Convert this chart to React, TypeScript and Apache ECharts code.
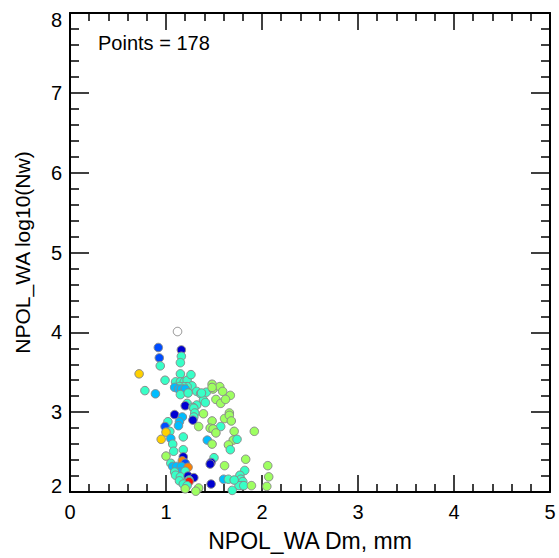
import React, { useEffect, useRef } from "react";
import * as echarts from "echarts";

// Dm (mm)
const dmValues: number[] = [
  0.92, 1.16, 1.16, 0.93, 1.15, 0.94, 0.72, 0.99, 0.78, 0.89,
  1.15, 1.10, 1.15, 1.19, 1.22, 1.26, 1.27, 1.22, 1.18, 1.14,
  1.09, 1.13, 1.16, 1.20, 1.15, 1.23, 1.32, 1.36, 1.39, 1.22,
  1.20, 1.32, 1.28, 1.42, 1.37, 1.41,
  1.48, 1.49, 1.56, 1.59, 1.67, 1.52, 1.57, 1.62, 1.48, 1.39, 1.66,
  1.09, 1.17, 1.29, 1.30, 1.29, 1.28, 1.02, 0.99, 1.14, 1.13,
  1.34, 1.04, 1.00, 0.95, 1.05, 1.18, 1.07, 1.08, 1.18, 1.00,
  1.18, 1.17, 1.20, 1.05, 1.07, 1.11, 1.16, 1.23, 1.15, 1.09,
  1.20, 1.10, 1.15, 1.23, 1.29, 1.24, 1.24, 1.14, 1.18, 1.22,
  1.20, 1.34, 1.31,
  1.48, 1.61, 1.66, 1.68, 1.57, 1.46, 1.49, 1.52, 1.71, 1.92,
  1.43, 1.48, 1.70, 1.74, 1.65, 1.67, 1.50, 1.47, 1.46, 1.61,
  1.83, 2.06, 1.82, 1.77, 1.78, 1.80, 1.79, 1.76, 1.81, 2.07,
  2.05, 1.89, 1.47, 1.60, 1.65, 1.71, 1.69,
];

// log10(Nw)
const nwValues: number[] = [
  3.81, 3.78, 3.70, 3.68, 3.62, 3.58, 3.48, 3.40, 3.27, 3.23,
  3.48, 3.38, 3.38, 3.38, 3.40, 3.47, 3.33, 3.32, 3.32, 3.32,
  3.31, 3.29, 3.29, 3.29, 3.22, 3.24, 3.26, 3.23, 3.15, 3.11,
  3.08, 3.09, 3.06, 3.25, 3.24, 3.12,
  3.35, 3.29, 3.32, 3.26, 3.21, 3.16, 3.11, 3.16, 3.31, 2.98, 2.99,
  2.97, 2.94, 3.05, 2.99, 2.94, 2.90, 2.88, 2.82, 2.88, 2.83,
  2.82, 2.76, 2.75, 2.66, 2.67, 2.69, 2.60, 2.51, 2.53, 2.45,
  2.44, 2.39, 2.36, 2.36, 2.32, 2.32, 2.32, 2.31, 2.25, 2.25,
  2.26, 2.21, 2.19, 2.20, 2.18, 2.15, 2.13, 2.14, 2.10, 2.08,
  2.04, 2.05, 2.01,
  2.89, 2.92, 2.96, 2.89, 2.82, 2.80, 2.79, 2.74, 2.76, 2.76,
  2.65, 2.60, 2.65, 2.66, 2.59, 2.53, 2.43, 2.37, 2.35, 2.33,
  2.41, 2.33, 2.27, 2.21, 2.16, 2.13, 2.08, 2.08, 2.08, 2.19,
  2.07, 2.08, 2.10, 2.16, 2.16, 2.15, 2.02,
];

// colour variable (0..1 on a jet scale)
const colorValues: number[] = [
  0.20, 0.08, 0.43, 0.20, 0.43, 0.43, 0.67, 0.43, 0.43, 0.31,
  0.43, 0.43, 0.43, 0.43, 0.43, 0.43, 0.43, 0.43, 0.43, 0.43,
  0.31, 0.31, 0.31, 0.31, 0.43, 0.43, 0.43, 0.43, 0.43, 0.43,
  0.08, 0.43, 0.43, 0.43, 0.43, 0.43,
  0.53, 0.53, 0.53, 0.53, 0.53, 0.53, 0.53, 0.53, 0.53, 0.53, 0.53,
  0.08, 0.31, 0.43, 0.43, 0.43, 0.08, 0.43, 0.20, 0.31, 0.31,
  0.53, 0.43, 0.67, 0.67, 0.31, 0.43, 0.43, 0.43, 0.43, 0.53,
  0.08, 0.75, 0.20, 0.43, 0.31, 0.31, 0.31, 0.75, 0.31, 0.43,
  0.43, 0.43, 0.43, 0.08, 0.08, 0.43, 0.86, 0.43, 0.43, 0.43,
  0.53, 0.53, 0.53,
  0.53, 0.53, 0.53, 0.53, 0.43, 0.53, 0.53, 0.53, 0.53, 0.53,
  0.31, 0.53, 0.53, 0.43, 0.53, 0.43, 0.43, 0.08, 0.08, 0.53,
  0.53, 0.53, 0.43, 0.43, 0.43, 0.43, 0.43, 0.43, 0.43, 0.53,
  0.53, 0.53, 0.08, 0.31, 0.43, 0.43, 0.43,
];

// points outside the colour range (drawn white)
const outDm: number[] = [1.12];
const outNw: number[] = [4.01];

const pointCount = 178;
const xTitle = "NPOL_WA Dm, mm";
const yTitle = "NPOL_WA log10(Nw)";

const jet = ["#000080", "#0000ff", "#0080ff", "#00ffff", "#80ff80", "#ffff00", "#ff8000", "#ff0000", "#800000"];

const FONT = "'Liberation Sans', Arial, Helvetica, sans-serif";

export default function App() {
  const ref = useRef<HTMLDivElement>(null);
  useEffect(() => {
    if (!ref.current) return;
    const chart = echarts.init(ref.current, undefined, { renderer: "svg" });
    const mainData = dmValues.map((d, i) => [d, nwValues[i], colorValues[i]]);
    const outData = outDm.map((d, i) => [d, outNw[i]]);

    const common = {
      axisLine: { show: true, onZero: false, lineStyle: { color: "#000", width: 2 } },
      splitLine: { show: false },
      minorSplitLine: { show: false },
    };

    chart.setOption({
      animation: false,
      backgroundColor: "#fff",
      textStyle: { fontFamily: FONT },
      grid: { left: 70, top: 13, width: 480, height: 479, containLabel: false },
      visualMap: {
        show: false,
        type: "continuous",
        seriesIndex: 0,
        dimension: 2,
        min: 0,
        max: 1,
        inRange: { color: jet },
      },
      xAxis: [
        {
          ...common,
          type: "value",
          position: "bottom",
          min: 0,
          max: 5,
          interval: 1,
          name: xTitle,
          nameLocation: "middle",
          nameGap: 37,
          nameTextStyle: { fontSize: 23, color: "#000", fontFamily: FONT },
          axisTick: { show: true, inside: true, length: 17, lineStyle: { color: "#000", width: 1.5 } },
          minorTick: { show: true, splitNumber: 5, length: 8, lineStyle: { color: "#000", width: 1.5 } },
          axisLabel: { show: true, fontSize: 20, color: "#000", margin: 10, fontFamily: FONT },
        },
        {
          ...common,
          type: "value",
          position: "top",
          min: 0,
          max: 5,
          interval: 1,
          axisTick: { show: true, inside: true, length: 17, lineStyle: { color: "#000", width: 1.5 } },
          minorTick: { show: true, splitNumber: 5, length: 8, lineStyle: { color: "#000", width: 1.5 } },
          axisLabel: { show: false },
        },
      ],
      yAxis: [
        {
          ...common,
          type: "value",
          position: "left",
          min: 2,
          max: 8,
          interval: 1,
          name: yTitle,
          nameLocation: "middle",
          nameGap: 37,
          nameTextStyle: { fontSize: 21, color: "#000", fontFamily: FONT },
          axisTick: { show: true, inside: true, length: 19, lineStyle: { color: "#000", width: 1.5 } },
          minorTick: { show: true, splitNumber: 5, length: 9, lineStyle: { color: "#000", width: 1.5 } },
          axisLabel: {
            show: true,
            fontSize: 20,
            color: "#000",
            margin: 8,
            fontFamily: FONT,
            formatter: (v: number) => (v === 8 ? "{top|8}" : v === 2 ? "{bot|2}" : String(v)),
            rich: {
              top: { fontSize: 20, color: "#000", fontFamily: FONT, padding: [14, 0, 0, 0] },
              bot: { fontSize: 20, color: "#000", fontFamily: FONT, padding: [0, 0, 12, 0] },
            },
          },
        },
        {
          ...common,
          type: "value",
          position: "right",
          min: 2,
          max: 8,
          interval: 1,
          axisTick: { show: true, inside: true, length: 19, lineStyle: { color: "#000", width: 1.5 } },
          minorTick: { show: true, splitNumber: 5, length: 9, lineStyle: { color: "#000", width: 1.5 } },
          axisLabel: { show: false },
        },
      ],
      graphic: [
        {
          type: "text",
          left: 98,
          top: 33,
          style: { text: `Points = ${pointCount}`, fontSize: 20, fill: "#000", fontFamily: FONT },
        },
      ],
      series: [
        {
          type: "scatter",
          xAxisIndex: 0,
          yAxisIndex: 0,
          symbol: "circle",
          symbolSize: 8.5,
          itemStyle: { borderColor: "#8a8a8a", borderWidth: 1, opacity: 1 },
          data: mainData,
        },
        {
          type: "scatter",
          xAxisIndex: 0,
          yAxisIndex: 0,
          symbol: "circle",
          symbolSize: 8.5,
          itemStyle: { color: "#ffffff", borderColor: "#8a8a8a", borderWidth: 1, opacity: 1 },
          data: outData,
        },
      ],
    });
    return () => chart.dispose();
  }, []);
  return <div ref={ref} style={{ width: 559, height: 558, position: "absolute", left: 0, top: 0 }} />;
}
